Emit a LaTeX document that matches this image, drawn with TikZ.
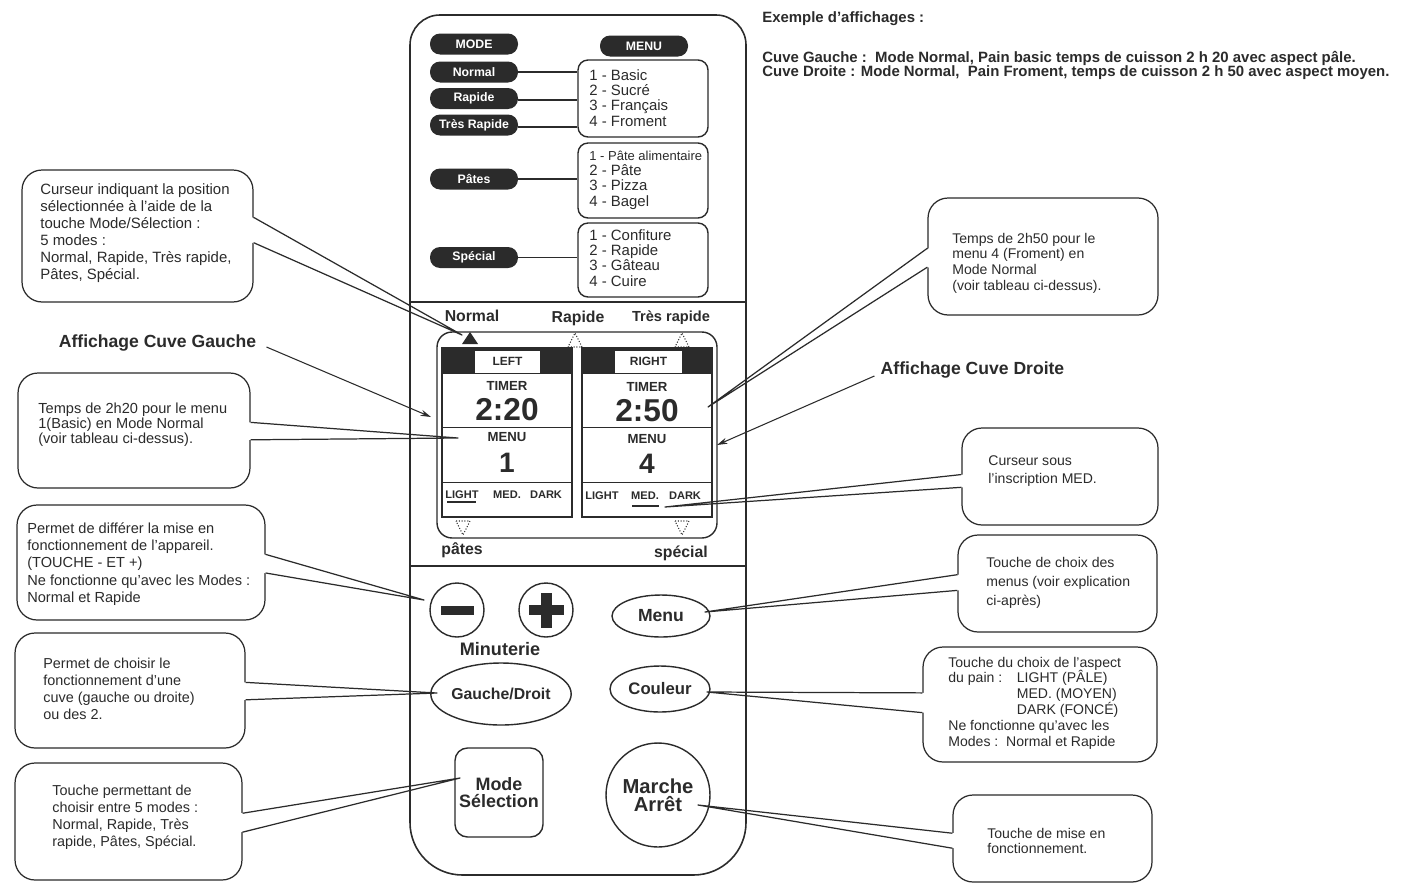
\documentclass[tikz,border=0pt]{standalone}
\usepackage{fontspec}
\setmainfont{Liberation Sans}
\usetikzlibrary{calc,shapes.geometric,arrows.meta}
\definecolor{ink}{HTML}{2B2B2B}
\newcommand\fs[2]{\fontsize{#1}{#2}\selectfont}
% wedge of a callout on its right side, toward a tip
\newcommand\wedgeR[4]{%
  \coordinate (#1-a) at ($(#1.north east)!#2!(#1.south east)$);
  \coordinate (#1-b) at ($(#1.north east)!#3!(#1.south east)$);
  \fill[white] ($(#1-a)+(-1.5,0)$) -- (#4) -- ($(#1-b)+(-1.5,0)$) -- cycle;
  \draw[pointer] (#1-a) -- (#4) -- (#1-b);}
% wedge of a callout on its left side
\newcommand\wedgeL[4]{%
  \coordinate (#1-a) at ($(#1.north west)!#2!(#1.south west)$);
  \coordinate (#1-b) at ($(#1.north west)!#3!(#1.south west)$);
  \fill[white] ($(#1-a)+(1.5,0)$) -- (#4) -- ($(#1-b)+(1.5,0)$) -- cycle;
  \draw[pointer] (#1-a) -- (#4) -- (#1-b);}
\begin{document}
\begin{tikzpicture}[x=0.02cm,y=-0.02cm,
  every node/.style={text=ink},
  callout/.style={draw=ink, line width=0.7pt, rounded corners=0.4cm, inner sep=0},
  pointer/.style={draw=ink, line width=0.7pt, line join=round},
  ctext/.style={anchor=west, align=left, inner sep=0},
  pill/.style={fill=ink, text=white, rounded corners=0.2cm, minimum width=1.76cm,
    minimum height=0.42cm, inner sep=0, font=\fs{7}{8}\bfseries},
  mbox/.style={draw=ink, line width=0.8pt, rounded corners=0.2cm, minimum width=2.6cm, inner sep=0},
  mtext/.style={anchor=west, align=left, inner sep=0, font=\fs{8.5}{8.7}},
  link/.style={draw=ink, line width=0.7pt},
  panel/.style={draw=ink, line width=0.8pt, minimum width=2.6cm, minimum height=3.38cm, inner sep=0},
  tag/.style={fill=white, minimum width=1.3cm, minimum height=0.44cm, inner sep=0, font=\fs{6.8}{7}\bfseries},
  dlab/.style={inner sep=0, font=\fs{9}{10}\bfseries},
  small/.style={inner sep=0, font=\fs{6.3}{7}\bfseries},
  btn/.style={draw=ink, line width=0.8pt, inner sep=0},
  title/.style={inner sep=0, font=\fs{10}{11}\bfseries},
  arrow/.style={draw=ink, line width=0.6pt, -{Stealth[length=6pt,width=3.5pt]}},
  dtri/.style={draw=ink, densely dotted, line width=0.6pt}
]
\useasboundingbox (0,0) rectangle (1415,886);
\fill[white] (0,0) rectangle (1415,886);

% ---------- top-right text ----------
\node[anchor=west, inner sep=0, font=\fs{8.5}{9}\bfseries] (ex) at (762,19) {Exemple d'affichages :};
\node[anchor=west, align=left, inner sep=0, font=\fs{8.5}{8}\bfseries] (ex2) at (762,65)
  {Cuve Gauche :\ \ Mode Normal, Pain basic temps de cuisson 2 h 20 avec aspect pâle.\\
   Cuve Droite : Mode Normal,\ \ Pain Froment, temps de cuisson 2 h 50 avec aspect moyen.};

% ---------- tips (free ends) ----------
\coordinate (t1) at (462,335);
\coordinate (t2) at (458,438);
\coordinate (t3) at (424,600);
\coordinate (t4) at (437,693);
\coordinate (t5) at (460,778);
\coordinate (r1t) at (708,407);
\coordinate (r2t) at (665,507);
\coordinate (r3t) at (705,612);
\coordinate (r4t) at (707,692);
\coordinate (r5t) at (698,805);

% ---------- left callouts ----------
\node[callout, minimum width=4.62cm, minimum height=2.64cm] (c1) at (137.5,236) {};
\wedgeR{c1}{0.36}{0.55}{t1}
\node[ctext, font=\fs{8.5}{9.6}] (c1t) at (40,233)
  {Curseur indiquant la position\\sélectionnée à l’aide de la\\touche Mode/Sélection :\\5 modes :\\Normal, Rapide, Très rapide,\\Pâtes, Spécial.};

\node[callout, minimum width=4.64cm, minimum height=2.3cm] (c2) at (134,430.5) {};
\wedgeR{c2}{0.43}{0.58}{t2}
\node[ctext, font=\fs{8.3}{8.6}] (c2t) at (38,425)
  {Temps de 2h20 pour le menu\\1(Basic) en Mode Normal\\(voir tableau ci-dessus).};

\node[callout, minimum width=4.96cm, minimum height=2.3cm] (c3) at (141,562.5) {};
\wedgeR{c3}{0.43}{0.59}{t3}
\node[ctext, font=\fs{8.3}{9.8}] (c3t) at (27,564)
  {Permet de différer la mise en\\fonctionnement de l’appareil.\\(TOUCHE - ET +)\\Ne fonctionne qu’avec les Modes :\\Normal et Rapide};

\node[callout, minimum width=4.6cm, minimum height=2.3cm] (c4) at (130,690.5) {};
\wedgeR{c4}{0.43}{0.58}{t4}
\node[ctext, font=\fs{8.2}{9.8}] (c4t) at (43,689)
  {Permet de choisir le\\fonctionnement d’une\\cuve (gauche ou droite)\\ou des 2.};

\node[callout, minimum width=4.54cm, minimum height=2.34cm] (c5) at (128.5,821.5) {};
\wedgeR{c5}{0.43}{0.59}{t5}
\node[ctext, font=\fs{8.2}{9.6}] (c5t) at (52,817)
  {Touche permettant de\\choisir entre 5 modes :\\Normal, Rapide, Très\\rapide, Pâtes, Spécial.};

% ---------- right callouts ----------
\node[callout, minimum width=4.6cm, minimum height=2.34cm] (r1) at (1043,256.5) {};
\wedgeL{r1}{0.43}{0.59}{r1t}
\node[ctext, font=\fs{8}{8.9}] (r1x) at (952,263)
  {Temps de 2h50 pour le\\menu 4 (Froment) en\\Mode Normal\\(voir tableau ci-dessus).};

\node[callout, minimum width=3.92cm, minimum height=1.94cm] (r2) at (1060,476.5) {};
\wedgeL{r2}{0.48}{0.61}{r2t}
\node[ctext, font=\fs{8}{10.2}] (r2x) at (988,471)
  {Curseur sous\\l’inscription MED.};

\node[callout, minimum width=3.98cm, minimum height=1.94cm] (r3) at (1057.5,583.5) {};
\wedgeL{r3}{0.41}{0.57}{r3t}
\node[ctext, font=\fs{8}{11}] (r3x) at (986,583)
  {Touche de choix des\\menus (voir explication\\ci-après)};

\node[callout, minimum width=4.68cm, minimum height=2.3cm] (r4) at (1040,704.5) {};
\wedgeL{r4}{0.40}{0.57}{r4t}
\node[ctext, font=\fs{8}{9}] (r4x) at (948,703)
  {Touche du choix de l’aspect\\\makebox[39pt][l]{du pain :}LIGHT (PÂLE)\\\hspace*{39pt}MED. (MOYEN)\\\hspace*{39pt}DARK (FONCÉ)\\Ne fonctionne qu’avec les\\Modes :\ \ Normal et Rapide};

\node[callout, minimum width=3.98cm, minimum height=1.74cm] (r5) at (1052.5,838.5) {};
\wedgeL{r5}{0.44}{0.61}{r5t}
\node[ctext, font=\fs{8}{8.6}] (r5x) at (987,841)
  {Touche de mise en\\fonctionnement.};

% ---------- titles with arrows ----------
\node[title] (tg) at (157.5,343) {Affichage Cuve Gauche};
\coordinate (tgtip) at (431,417);
\draw[arrow] ($(tg.east)+(10,4)$) -- (tgtip);
\node[title] (td) at (972.5,370) {Affichage Cuve Droite};
\coordinate (tdtip) at (717,445);
\draw[arrow] ($(td.west)+(-6,6)$) -- (tdtip);

% ---------- remote body ----------
\draw[ink, line width=0.9pt] (410,300) [rounded corners=0.6cm] |- (578,15) -| (746,300)
  [rounded corners=1.05cm] |- (578,875) -| (410,300) -- cycle;
\draw[ink, line width=0.8pt] (410,302) -- (746,302);
\draw[ink, line width=0.8pt] (410,566) -- (746,566);

% ---------- mode / menu section ----------
\node[pill] (pmode) at (474,44) {MODE};
\node[pill] (pmenu) at (644,46) {MENU};
\node[pill] (pnorm) at (474,72) {Normal};
\node[pill] (prap) at (474,98.5) {Rapide};
\node[pill] (ptres) at (474,125) {Très Rapide};
\node[pill] (ppat) at (474,179) {Pâtes};
\node[pill] (pspe) at (474,257.5) {Spécial};

\node[mbox, minimum height=1.54cm] (m1) at (643,98.5) {};
\node[mbox, minimum height=1.5cm] (m2) at (643,180.5) {};
\node[mbox, minimum height=1.48cm] (m3) at (643,260) {};
\node[mtext] (m1t) at (589,98) {1 - Basic\\2 - Sucré\\3 - Français\\4 - Froment};
\node[mtext] (m2t) at (589,180) {{\fs{7.4}{8.7}1 - Pâte alimentaire}\\2 - Pâte\\3 - Pizza\\4 - Bagel};
\node[mtext] (m3t) at (589,258) {1 - Confiture\\2 - Rapide\\3 - Gâteau\\4 - Cuire};

\draw[link] (pnorm.east) -- (pnorm.east -| m1.west);
\draw[link] ([yshift=-0.03cm]prap.east) -- ([yshift=-0.03cm]prap.east -| m1.west);
\draw[link] ([yshift=-0.04cm]ptres.east) -- ([yshift=-0.04cm]ptres.east -| m1.west);
\draw[link] (ppat.east) -- (ppat.east -| m2.west);
\draw[link] (pspe.east) -- (pspe.east -| m3.west);

% ---------- display ----------
\node[dlab] (lnorm) at (472,316) {Normal};
\node[dlab] (lrap) at (578,318) {Rapide};
\node[dlab, font=\fs{8.3}{9}\bfseries] (ltres) at (671,318) {Très rapide};
\node[dlab] (lpat) at (462,550) {pâtes};
\node[dlab] (lspe) at (681,553) {spécial};

\node[draw=ink, line width=0.8pt, rounded corners=0.3cm, minimum width=5.6cm,
  minimum height=4.12cm, inner sep=0] (disp) at (577,435) {};
\node[panel] (lp) at (507,432.5) {};
\node[panel] (rp) at (647,432.5) {};
\fill[ink] (lp.north west) rectangle ($(lp.north east)+(0,27)$);
\fill[ink] (rp.north west) rectangle ($(rp.north east)+(0,27)$);
\node[tag] (lt) at (507.5,361.5) {LEFT};
\node[tag, minimum width=1.34cm] (rt) at (648.5,361.5) {RIGHT};
\foreach \p in {lp,rp}{
  \draw[ink, line width=0.8pt] ($(\p.north west)+(0,80)$) -- ($(\p.north east)+(0,80)$);
  \draw[ink, line width=0.8pt] ($(\p.north west)+(0,135)$) -- ($(\p.north east)+(0,135)$);
}
\node[inner sep=0, font=\fs{7.5}{8}\bfseries] (ltim) at (507,386) {TIMER};
\node[inner sep=0, font=\fs{18}{18}\bfseries] (lval) at (507,410) {2:20};
\node[inner sep=0, font=\fs{7.5}{8}\bfseries] (lmen) at (507,437) {MENU};
\node[inner sep=0, font=\fs{16}{16}\bfseries] (lnum) at (507,463) {1};
\node[small] (ll) at (462,495) {LIGHT};
\node[small] (lm) at (507,495) {MED.};
\node[small] (ld) at (546,495) {DARK};
\draw[ink, line width=1.6pt] (447,502) -- (476,502);

\node[inner sep=0, font=\fs{7.5}{8}\bfseries] (rtim) at (647,387) {TIMER};
\node[inner sep=0, font=\fs{18}{18}\bfseries] (rval) at (647,411) {2:50};
\node[inner sep=0, font=\fs{7.5}{8}\bfseries] (rmen) at (647,439) {MENU};
\node[inner sep=0, font=\fs{16}{16}\bfseries] (rnum) at (647,464) {4};
\node[small] (rl) at (602,496) {LIGHT};
\node[small] (rm) at (645,496) {MED.};
\node[small] (rd) at (685,496) {DARK};
\draw[ink, line width=1.6pt] (632,506) -- (659,506);

% cursors
\fill[ink] (462,344) -- (478,344) -- (470,332) -- cycle;
\draw[dtri] (568,347) -- (582,347) -- (575,333) -- cycle;
\draw[dtri] (675,347) -- (689,347) -- (682,333) -- cycle;
\draw[dtri] (456,521) -- (470,521) -- (463,535) -- cycle;
\draw[dtri] (675,521) -- (689,521) -- (682,535) -- cycle;

% ---------- buttons ----------
\node[btn, circle, minimum size=1.08cm] (minus) at (457,610) {};
\fill[ink] ($(minus)+(-16.5,-4.5)$) rectangle ($(minus)+(16.5,4.5)$);
\node[btn, circle, minimum size=1.08cm] (plus) at (546,610) {};
\fill[ink] ($(plus)+(-17.5,-5)$) rectangle ($(plus)+(17.5,5)$);
\fill[ink] ($(plus)+(-5.5,-17.5)$) rectangle ($(plus)+(5.5,17.5)$);
\node[inner sep=0, font=\fs{10.3}{11}\bfseries] (minut) at (500,649) {Minuterie};

\node[btn, ellipse, minimum width=1.96cm, minimum height=0.84cm, font=\fs{10}{11}\bfseries] (bmenu) at (661,616) {Menu};
\node[btn, ellipse, minimum width=2.56cm, minimum height=1.24cm, font=\fs{9}{10}\bfseries] (bgd) at (501,694) {Gauche/Droit};
\node[btn, ellipse, minimum width=2.0cm, minimum height=0.92cm, font=\fs{9.5}{10}\bfseries] (bcoul) at (660,689) {Couleur};
\node[btn, rounded corners=0.25cm, minimum width=1.76cm, minimum height=1.78cm, align=center,
  font=\fs{10.2}{9.8}\bfseries] (bmode) at (499,792.5) {Mode\\Sélection};
\node[btn, circle, minimum size=2.08cm, align=center, font=\fs{11.5}{10.3}\bfseries] (bma) at (658,795) {Marche\\Arrêt};
\end{tikzpicture}
\end{document}
